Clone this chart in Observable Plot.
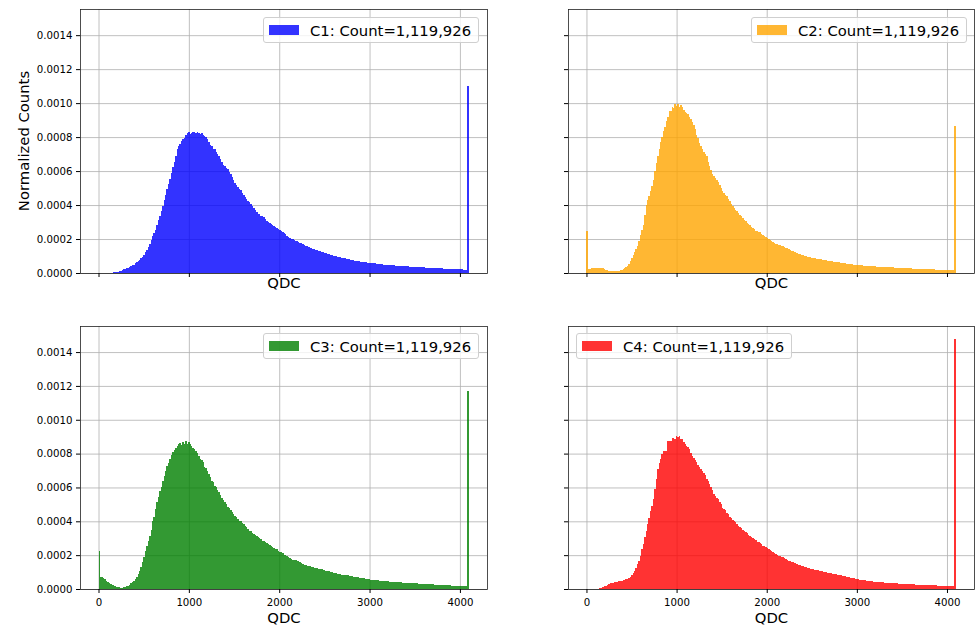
<!DOCTYPE html>
<html>
<head>
<meta charset="utf-8">
<script src="https://cdn.jsdelivr.net/npm/d3@7"></script>
<script src="https://cdn.jsdelivr.net/npm/@observablehq/plot@0.6"></script>
<style>
  body { margin: 0; background: white; }
  #fig { position: relative; width: 975px; height: 627px; font-family: "DejaVu Sans", sans-serif; overflow: hidden; }
  #fig > .panel { position: absolute; }
  .legend { position: absolute; width: 216px; height: 26px; box-sizing: border-box; border: 1px solid #cfcfcf; border-radius: 3px; background: rgba(255,255,255,0.8); }
  .legend .patch { position: absolute; left: 5px; top: 7px; width: 30px; height: 10px; }
  .legend .label { position: absolute; left: 46px; top: 0; line-height: 25px; font-size: 14.8px; color: black; white-space: nowrap; }
  .ylabel { position: absolute; left: 23px; top: 141px; transform: translate(-50%, -50%) rotate(-90deg); font-size: 14.8px; color: black; white-space: nowrap; }
</style>
</head>
<body>
<div id="fig"></div>
<script>
// ---- data (normalized counts, in units of 1e-6, 256 bins of width 16 QDC) ----
const binWidth = 16;
const densityUnit = 1e-6;
const channels = ["C1", "C2", "C3", "C4"];
const counts = ["1,119,926", "1,119,926", "1,119,926", "1,119,926"];
const colors = ["#0000ff", "#ffa500", "#008000", "#ff0000"];
const xTicks = [0, 1000, 2000, 3000, 4000];
const yTicks = [0, 0.0002, 0.0004, 0.0006, 0.0008, 0.0010, 0.0012, 0.0014];
const xLabel = "QDC";
const yLabel = "Normalized Counts";

const c1 = [
0,0,0,0,0,0,1,1,2,2,
3,4,5,7,9,12,18,21,24,27,
31,35,40,45,50,56,63,70,77,86,
97,108,122,138,155,173,196,220,236,252,
285,310,337,363,396,427,462,496,525,555,
590,625,655,690,727,745,762,778,790,796,
815,822,828,820,826,832,828,823,830,824,
816,826,812,806,798,788,770,756,748,731,
728,712,702,688,672,655,636,628,620,612,
596,584,565,548,530,516,508,497,486,470,
458,446,434,425,416,408,396,383,372,360,
350,346,338,333,328,318,307,300,294,288,
280,276,270,266,260,252,246,240,236,228,
220,213,207,203,198,195,190,186,182,178,
174,168,164,160,156,152,149,146,142,139,
136,134,131,128,125,122,119,117,114,111,
108,105,102,100,98,96,94,92,90,88,
86,84,82,80,79,77,75,73,72,70,
69,67,66,65,63,62,61,60,59,58,
57,56,55,54,53,52,51,50,50,49,
48,47,46,46,45,44,44,43,43,42,
41,41,40,39,39,38,38,37,36,36,
35,35,34,34,33,33,32,32,31,31,
30,30,29,29,28,28,27,27,26,26,
25,25,24,24,23,23,23,22,22,21,
21,21,20,20,20,1100];

const c2 = [
250,25,26,28,30,31,30,31,30,29,
29,28,24,18,15,13,11,10,10,9,
9,9,10,16,20,25,30,35,39,52,
69,86,108,124,140,157,190,225,255,284,
340,402,430,455,480,515,549,600,647,690,
730,774,800,833,862,892,920,951,955,975,
970,994,985,994,980,990,975,960,950,941,
935,921,905,888,872,845,813,795,764,748,
730,715,700,686,655,627,605,582,570,560,
549,534,519,500,480,468,460,451,436,421,
406,392,382,372,363,353,343,333,323,313,
304,296,288,280,272,265,257,249,245,242,
239,232,224,216,211,206,201,196,190,184,
178,172,169,166,163,160,157,153,149,146,
140,136,132,128,124,120,117,114,111,108,
105,102,99,97,95,93,91,89,87,85,
84,82,80,79,77,76,74,73,71,70,
68,67,66,64,63,62,60,59,58,57,
55,54,53,52,51,50,49,48,47,46,
45,45,44,43,43,42,41,41,40,40,
39,38,38,37,37,36,36,35,35,34,
34,33,33,32,32,31,31,30,30,29,
29,28,28,28,27,27,26,26,26,25,
25,24,24,24,23,23,22,22,22,21,
21,21,20,20,20,19,19,19,18,18,
18,17,17,17,16,865];

const c3 = [
225,73,69,64,59,49,43,35,30,26,
22,18,14,12,10,8,8,10,12,16,
20,26,33,41,49,59,73,89,108,132,
158,187,223,252,286,315,349,400,424,473,
512,542,577,601,636,670,699,729,743,768,
794,808,821,833,847,857,863,853,869,857,
873,857,867,857,847,833,827,814,802,784,
768,762,749,723,713,699,680,664,640,630,
611,605,585,571,558,538,526,512,502,487,
479,467,453,443,433,424,414,404,400,388,
384,374,364,355,345,341,329,325,321,313,
305,301,293,286,282,276,270,266,260,254,
246,242,238,234,227,221,217,211,203,199,
195,189,183,179,173,173,171,167,163,158,
152,148,144,141,138,135,133,130,128,126,
125,124,121,118,116,113,111,108,106,104,
101,99,97,95,93,91,89,87,85,83,
82,81,80,79,77,75,73,72,70,69,
67,66,64,63,62,61,59,58,56,55,
54,53,52,51,50,49,48,47,47,46,
45,44,44,43,42,42,41,40,40,39,
38,38,37,37,36,35,35,34,34,33,
33,32,32,31,31,30,30,29,29,28,
27,27,26,26,25,25,24,24,23,23,
22,22,21,21,20,20,20,19,19,18,
18,18,17,17,16,1170];

const c4 = [
0,0,0,0,0,0,0,0,0,4,
8,12,16,20,24,29,33,35,37,39,
41,43,45,47,49,51,53,57,61,65,
73,83,94,108,126,147,167,197,236,265,
305,344,383,422,462,491,531,590,648,707,
747,766,796,815,815,815,874,874,874,894,
894,884,904,900,904,888,884,868,855,845,
841,825,802,786,776,762,751,731,723,711,
698,688,672,652,639,619,605,586,560,550,
540,531,515,501,481,475,466,452,442,428,
417,409,401,393,383,373,365,358,350,342,
334,328,320,314,307,301,295,287,279,275,
269,263,257,252,246,242,236,230,224,216,
212,206,202,197,193,191,187,181,177,173,
167,163,161,157,153,150,147,144,141,138,
135,132,130,127,124,121,119,116,114,112,
110,108,106,104,102,100,98,96,94,92,
90,89,87,86,85,83,81,79,77,75,
73,71,69,67,65,63,61,59,58,56,
55,53,52,51,49,48,47,46,45,44,
43,42,41,40,40,39,38,37,37,36,
35,35,34,34,33,33,32,32,31,31,
30,30,29,29,28,28,27,27,26,26,
25,25,24,24,24,23,23,22,22,22,
21,21,21,20,20,20,19,19,19,18,
18,18,17,17,16,1480];

const series = [c1, c2, c3, c4];

// ---- layout ----
const panels = [
  {left: 0,   top: 0,   width: 490, height: 310, mL: 80, mR: 3, mT: 9,  mB: 37, showY: true,  showX: false, legend: {left: 263, top: 17}},
  {left: 490, top: 0,   width: 485, height: 310, mL: 78, mR: 1, mT: 9,  mB: 37, showY: false, showX: false, legend: {left: 751, top: 17}},
  {left: 0,   top: 310, width: 490, height: 317, mL: 80, mR: 3, mT: 16, mB: 38, showY: true,  showX: true,  legend: {left: 263, top: 333}},
  {left: 490, top: 310, width: 485, height: 317, mL: 78, mR: 1, mT: 16, mB: 38, showY: false, showX: true,  legend: {left: 576, top: 333}}
];

const xDomain = [-204.75, 4299.75];
const yDomain = [0, 0.001554];
const fig = document.getElementById("fig");

panels.forEach((p, k) => {
  const rows = series[k].map((v, i) => ({x1: i * binWidth, x2: (i + 1) * binWidth, y: v * densityUnit}));
  const marks = [
    Plot.gridX(xTicks, {stroke: "#b0b0b0", strokeOpacity: 1, strokeWidth: 0.8}),
    Plot.gridY(yTicks, {stroke: "#b0b0b0", strokeOpacity: 1, strokeWidth: 0.8}),
    Plot.rect(rows, {x1: "x1", x2: "x2", y1: () => 0, y2: "y", fill: colors[k], fillOpacity: 0.8, shapeRendering: "crispEdges"}),
    Plot.frame({stroke: "#222", strokeWidth: 0.8}),
    Plot.axisX({ticks: xTicks, tickFormat: p.showX ? (d => String(d)) : (() => ""), tickSize: 4, tickPadding: 5, label: null, fontSize: 10.2}),
    Plot.axisY({ticks: yTicks, tickFormat: p.showY ? (d => d.toFixed(4)) : (() => ""), tickSize: 4, tickPadding: 4, label: null, fontSize: 10.2}),
    Plot.text([xLabel], {text: d => d, frameAnchor: "bottom", dy: p.showX ? 29 : 10, fontSize: 14.8, lineAnchor: "middle", fill: "black"})
  ];
  const chart = Plot.plot({
    width: p.width, height: p.height,
    marginLeft: p.mL, marginRight: p.mR, marginTop: p.mT, marginBottom: p.mB,
    style: {fontFamily: "DejaVu Sans", fontSize: "10.2px", color: "black", background: "transparent", overflow: "visible"},
    x: {domain: xDomain},
    y: {domain: yDomain},
    marks
  });
  chart.classList.add("panel");
  chart.style.left = p.left + "px";
  chart.style.top = p.top + "px";
  fig.appendChild(chart);

  const lg = document.createElement("div");
  lg.className = "legend";
  lg.style.left = p.legend.left + "px";
  lg.style.top = p.legend.top + "px";
  const patch = document.createElement("div");
  patch.className = "patch";
  patch.style.background = colors[k];
  patch.style.opacity = 0.8;
  const label = document.createElement("div");
  label.className = "label";
  label.textContent = channels[k] + ": Count=" + counts[k];
  lg.appendChild(patch);
  lg.appendChild(label);
  fig.appendChild(lg);
});

const yl = document.createElement("div");
yl.className = "ylabel";
yl.textContent = yLabel;
fig.appendChild(yl);
</script>
</body>
</html>
